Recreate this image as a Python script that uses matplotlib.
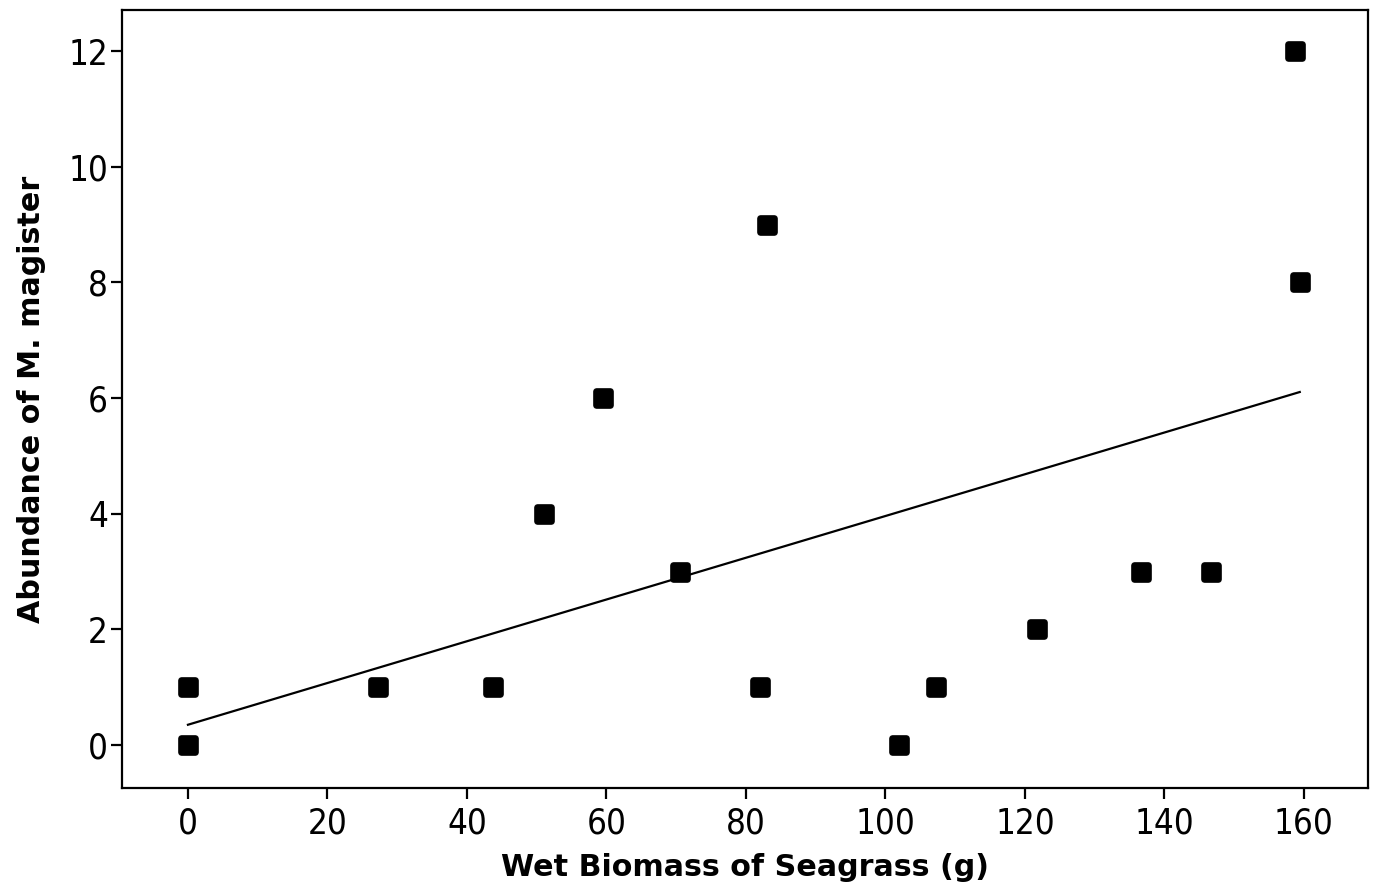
import numpy as np
import matplotlib.pyplot as plt
from matplotlib.markers import MarkerStyle

# seagrass wet biomass (g) vs abundance of M. magister
biomass = [0, 0, 27.2, 43.7, 51.0, 59.5, 70.5, 82.0, 83.0, 101.9, 107.2, 121.7, 136.6, 146.7, 158.7, 159.4]
abundance = [0, 1, 1, 1, 4, 6, 3, 1, 9, 0, 1, 2, 3, 3, 12, 8]

# fitted line as drawn in the original
fit_intercept = 0.35
fit_slope = 0.0361

x = np.array(biomass)
y = np.array(abundance)

fig = plt.figure(figsize=(13.75, 8.88), dpi=100)
ax = fig.add_axes([0.0887, 0.1126, 0.9063, 0.8761])

mk = MarkerStyle('s', joinstyle='round')
ax.plot(x, y, linestyle='none', marker=mk, markersize=9.5, color='black',
        markeredgewidth=4.8)
xl = np.array([x.min(), x.max()])
ax.plot(xl, fit_intercept + fit_slope * xl, color='black', linewidth=1.6)

ax.set_xlim(-9.46, 169.2)
ax.set_ylim(-0.744, 12.71)
ax.set_xticks(range(0, 161, 20))
ax.set_yticks(range(0, 13, 2))

for s in ax.spines.values():
    s.set_linewidth(1.6)
ax.tick_params(direction='out', length=8, width=1.6, labelsize=25)
ax.tick_params(axis='x', pad=5)
ax.tick_params(axis='y', pad=2)
for lab in ax.get_xticklabels() + ax.get_yticklabels():
    lab.set_fontstretch('condensed')

ax.set_xlabel('Wet Biomass of Seagrass (g)', fontsize=21.7, fontweight='bold', labelpad=9)
ax.set_ylabel('Abundance of M. magister', fontsize=21.7, fontweight='bold', labelpad=16)

fig.savefig('out.png', dpi=100)
